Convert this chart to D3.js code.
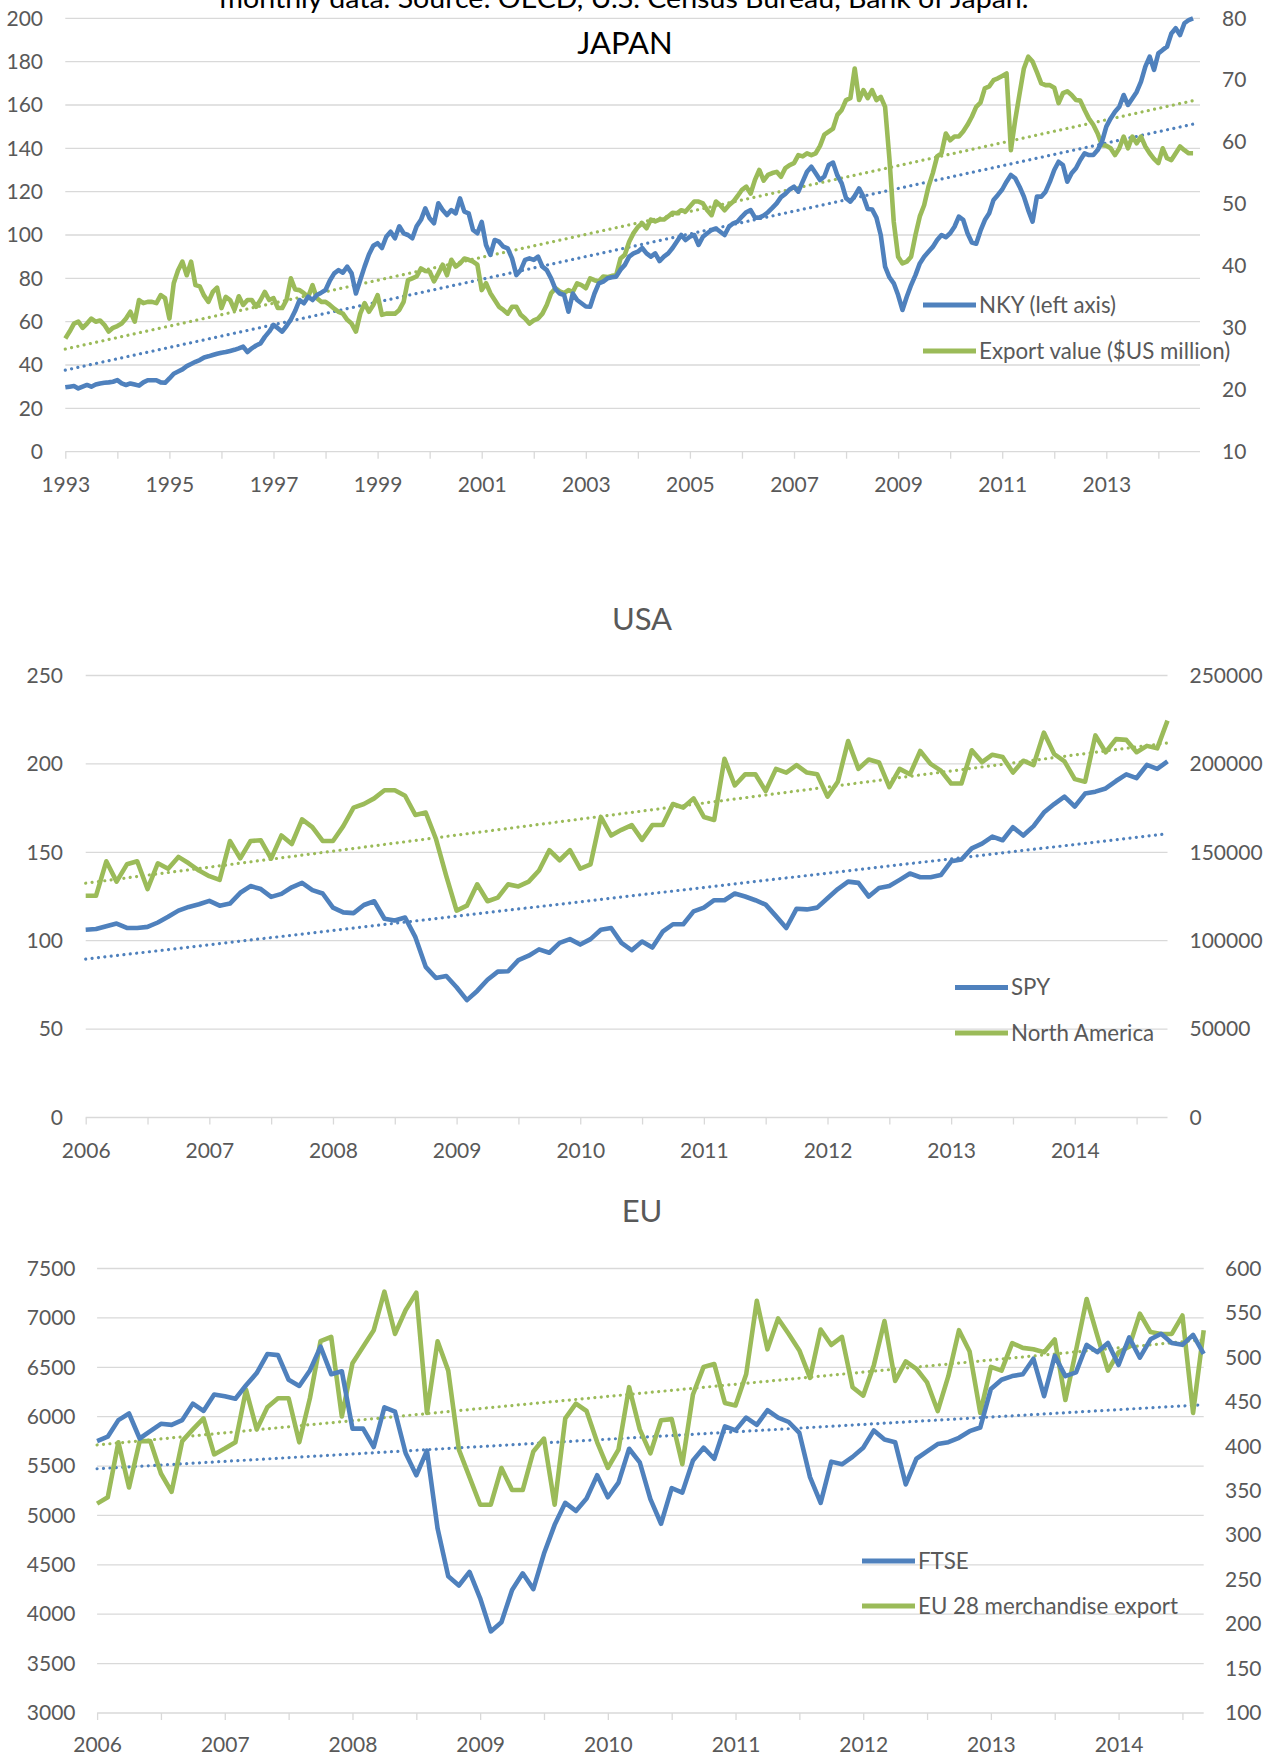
<!DOCTYPE html>
<html><head><meta charset="utf-8">
<script src="https://cdn.jsdelivr.net/npm/d3@7"></script>
<style>
body{margin:0;background:#fff;}
svg{display:block;}
</style></head><body>
<svg id="c" width="1278" height="1757"></svg>
<script>
// ---------------- DATA ----------------
// JAPAN, monthly Jan 1993 - Sep 2014
const japanNKY = [
29.7,30,30.3,29.2,30,30.8,30,31,31.5,31.8,32,32.3,
33,31.5,30.8,31.5,31,30.5,32,33,33,33,32,31.8,
33.8,36,37,38,39.5,40.5,41.5,42.3,43.5,44,44.6,45.2,
45.7,46,46.5,47,47.7,48.5,46,47.7,49,50,53,55.4,
58.5,57,55.4,58,61,65,70,68.5,71.5,70,72.3,73.4,
74.6,79,82.3,83.8,82.6,85.4,82.3,73,79.2,85.4,91,95,
96.2,94,99.2,101.5,98.5,104,100.8,100,98.5,104,107,112.3,
107.7,105.4,114.6,111.5,109.2,111.5,110,116.9,110.8,110,102.3,100.8,
106,95.4,90.8,97.7,96.9,94.6,93.8,89.2,81.5,83.8,88.5,89.2,
88.5,90,85.4,83.8,80,75,73,72.3,64.6,73,70,68.5,
67,66.9,73,77.7,78.5,80,80.5,80.8,84,86.2,90,91.5,
92.3,94,91.5,90,91.5,88,90,91.5,94,97,100,97.7,
99.2,100,95.4,99.2,100.8,102.3,103,101.5,100,103.8,105.4,106.2,
108.5,110.5,111.5,108,108,109,110.5,112.5,114.6,117.5,119,121,
122.3,120,124.6,129.2,131.5,128.5,125.4,127,132.3,133.4,127.5,123.8,
117,115.4,118,121.5,117.7,112,111.8,108,100,85.4,80.5,77.7,
72.3,65.4,71.5,76.9,81.5,86.9,90,92.3,94.5,97.7,100,99,
100.8,103.8,108.5,107,100.8,96.5,96,102,106.9,110,116.2,118.5,
121,124.6,127.7,126.2,122.3,117.7,111.5,106.2,117.7,117.7,120,124.6,
130,133.8,132.3,124.6,128.5,130.8,134.6,137.7,136.9,136.9,139.2,143,
150,153.8,156.9,159.2,164.6,160,163,166,170.8,177.7,182.3,176.2,
183.8,185.4,186.9,193,195.4,192.3,197.7,199.2,200
];
const japanExport = [
28.3,29.4,30.7,31.0,30.0,30.7,31.5,31.0,31.2,30.5,29.4,30.0,
30.3,30.7,31.5,32.6,31.0,34.5,34.0,34.2,34.2,34.0,35.3,34.8,
31.5,37.2,39.3,40.7,38.5,40.7,36.9,36.7,35.2,34.2,35.8,36.5,
33.2,35.0,34.5,32.9,35.1,33.7,34.5,34.5,33.4,34.5,35.8,34.5,
34.8,33.2,33.2,34.5,38.0,36.2,36.1,35.6,35.0,36.9,34.8,34.2,
34.2,33.7,33.1,32.6,32.3,31.3,30.7,29.4,32.3,34.0,32.6,33.7,
35.3,32.1,32.3,32.3,32.3,32.9,34.2,37.7,38.0,38.3,39.6,39.2,
39.1,37.5,38.8,40.2,38.5,41.0,39.9,40.4,41.2,41.0,40.7,40.2,
36.1,37.2,35.6,34.5,33.4,32.9,32.3,33.4,33.4,32.1,31.5,30.7,
31.2,31.5,32.3,33.7,35.6,36.4,35.9,35.6,36.1,35.8,37.2,36.9,
36.4,38.0,37.7,37.5,38.3,38.2,38.4,38.5,41.2,41.8,43.9,45.3,
46.3,46.9,46.1,47.5,47.2,47.5,47.5,48.0,48.6,48.5,49.0,48.8,
49.6,50.4,50.4,50.1,49.0,48.2,50.4,49.8,49.0,49.8,50.4,51.3,
52.3,52.8,51.7,53.9,55.5,53.8,54.7,55.0,55.2,54.4,55.8,56.3,
56.6,57.9,57.7,58.2,57.9,58.2,59.4,61.2,61.7,62.2,64.4,65.2,
66.8,67.1,71.9,66.8,68.4,67.1,68.4,66.8,67.3,65.7,57.3,47.1,
41.5,40.4,40.7,41.5,45.0,48.0,49.8,52.8,55.0,57.7,58.2,61.4,
60.3,60.9,60.9,61.7,62.8,64.1,65.7,66.4,68.7,69.0,70.0,70.3,
70.7,71.1,58.7,63.6,67.8,71.9,73.8,73.0,71.3,69.5,69.2,69.2,
68.8,66.3,67.9,68.2,67.6,66.8,66.7,65.2,63.8,62.8,61.4,59.5,
59.4,59.0,57.9,59.0,60.9,59.0,60.9,59.8,60.9,59.3,58.2,57.3,
56.6,59.0,57.4,57.1,58.2,59.3,58.7,58.2,58.2
];
const japanLeftTicks = [0,20,40,60,80,100,120,140,160,180,200];
const japanRightTicks = [10,20,30,40,50,60,70,80];
const japanYearLabels = [1993,1995,1997,1999,2001,2003,2005,2007,2009,2011,2013];

// USA, monthly Jan 2006 - Oct 2014
const usaSPY = [
106.2,106.6,108.2,109.7,107.2,107.2,107.8,110.3,113.5,117,119.1,120.6,
122.5,119.8,121,127.1,130.9,129.2,124.8,126.5,130.2,132.7,128.6,126.7,
118.7,116,115.6,120.2,122.3,112.4,111.4,113.1,102,85.2,78.9,80,
73.7,66.4,71.6,77.9,82.5,82.7,89,91.5,95.1,93.2,98.8,100.9,
97.8,100.9,106.2,107.2,98.8,94.6,99.5,96.1,105.1,109.3,109.3,116.6,
118.7,122.9,122.9,126.7,125,122.9,120.4,113.9,107.2,118.1,117.7,118.7,
124,129.2,133.4,132.7,125,129.8,130.9,134.4,138,135.9,135.9,137.1,
144.9,145.9,152.2,154.9,158.9,156.8,164.2,159.5,164.8,172.5,177.3,181.5,
175.9,183.2,184.3,186.1,190.3,194.1,192,199.4,197.2,201.4
];
const usaNorthAmerica = [
125400,125400,144900,133400,143200,144900,129200,143800,140700,147400,143800,139700,
136500,134400,156400,146600,156400,156800,146400,159500,154700,168600,164200,156400,
156400,164800,175300,177300,180500,185100,185100,182000,171100,172500,157500,136500,
117000,119800,131900,122300,124400,131900,130700,133400,139700,151200,145500,151200,
140700,143200,170000,159500,162700,165400,157000,165400,165400,177300,175300,180500,
170000,168300,202900,187800,194100,194100,184700,197200,195100,199300,195100,194100,
181500,189900,212900,197200,202500,200800,186800,197200,194100,207300,200000,196200,
188900,188900,207700,201000,205200,203900,195100,201800,199300,217700,205600,201400,
191400,189900,216100,206600,214000,213600,206600,210200,208800,224500
];
const usaLeftTicks = [0,50,100,150,200,250];
const usaRightTicks = [0,50000,100000,150000,200000,250000];
const usaYearLabels = [2006,2007,2008,2009,2010,2011,2012,2013,2014];

// EU, monthly Jan 2006 - Sep 2014
const euFTSE = [
5753,5797,5965,6032,5779,5853,5928,5917,5965,6132,6058,6225,
6207,6181,6318,6441,6634,6623,6374,6311,6467,6709,6430,6460,
5879,5879,5693,6095,6050,5630,5407,5656,4867,4384,4291,4428,
4161,3826,3919,4246,4414,4254,4614,4905,5128,5046,5172,5407,
5184,5332,5675,5537,5165,4916,5277,5232,5556,5686,5574,5902,
5861,5991,5917,6065,5991,5946,5835,5388,5128,5545,5518,5593,
5686,5861,5768,5742,5314,5574,5648,5723,5742,5786,5853,5890,
6281,6374,6411,6430,6586,6207,6616,6411,6448,6727,6653,6746,
6523,6802,6597,6783,6839,6746,6727,6828,6635
];
const euExport = [
335.5,342.6,404.5,353.7,405.8,405.8,369.4,348.8,405.8,419,431.4,390.9,
397.5,404.5,463.6,419,443.8,454.1,454.1,404.5,454.1,518.2,523.1,433.5,
493.4,512,530.6,574,526.4,553.3,572.7,437.6,518.2,485.1,396.3,365.3,
334.3,334.3,375.6,350.8,350.8,394.2,408.7,334.3,431.4,447.9,439.7,404.5,
375.6,396.3,466.5,419,392.1,429.3,430.6,379.8,458.3,489.3,492.6,448.8,
445.9,481,563.6,509.1,543.8,526.4,507.9,476.9,531.4,514,523.1,466.5,
457,491.3,540.9,473.6,495.5,487.2,471.9,439.7,478.9,530.6,506.6,437.6,
489.3,485.1,516.1,510.7,509.1,505.8,520.2,452.1,507.9,565.7,524.4,485.1,
505.8,512,549.2,528.5,526.4,526.4,547.1,437.6,530.6
];
const euLeftTicks = [3000,3500,4000,4500,5000,5500,6000,6500,7000,7500];
const euRightTicks = [100,150,200,250,300,350,400,450,500,550,600];
const euYearLabels = [2006,2007,2008,2009,2010,2011,2012,2013,2014];

const headerText = "monthly data. Source: OECD, U.S. Census Bureau, Bank of Japan.";

// ---------------- DRAWING ----------------
const FONT = "Lato, 'Open Sans', 'DejaVu Sans', sans-serif";
const BLUE = "#4f81bd", GREEN = "#9bbb59", GRID = "#d9d9d9", TXT = "#595959";
const svg = d3.select("#c");

function fit(vals){
  const n = vals.length; let sx=0, sy=0, sxx=0, sxy=0;
  vals.forEach((v,i)=>{ sx+=i; sy+=v; sxx+=i*i; sxy+=i*v; });
  const b = (n*sxy - sx*sy)/(n*sxx - sx*sx);
  const a = (sy - b*sx)/n;
  return i => a + b*i;
}

function panel(c){
  const g = svg.append("g");
  const x = d3.scaleLinear().domain([0, c.xMax]).range([c.x0, c.x1]);
  const yL = d3.scaleLinear().domain(c.leftDomain).range([c.yBottom, c.yTop]);
  const yR = d3.scaleLinear().domain(c.rightDomain).range([c.yBottom, c.yTop]);

  // gridlines
  g.append("g").selectAll("line").data(c.leftTicks).join("line")
    .attr("x1", c.x0).attr("x2", c.x1)
    .attr("y1", d => yL(d)).attr("y2", d => yL(d))
    .attr("stroke", GRID).attr("stroke-width", 1.3);

  // left axis labels
  g.append("g").attr("transform", `translate(${c.leftLabelX},0)`)
    .call(d3.axisLeft(yL).tickValues(c.leftTicks).tickSize(0).tickPadding(0).tickFormat(d => d))
    .call(s => s.select(".domain").remove())
    .attr("font-family", FONT).attr("font-size", 21)
    .selectAll("text").attr("fill", TXT);

  // right axis labels
  g.append("g").attr("transform", `translate(${c.rightLabelX},0)`)
    .call(d3.axisRight(yR).tickValues(c.rightTicks).tickSize(0).tickPadding(0).tickFormat(d => d))
    .call(s => s.select(".domain").remove())
    .attr("font-family", FONT).attr("font-size", 21)
    .selectAll("text").attr("fill", TXT);

  // x tick marks
  const tickMonths = d3.range(0, c.xMax + 0.001, c.tickEvery);
  g.append("g").attr("transform", `translate(0,${c.yBottom})`)
    .call(d3.axisBottom(x).tickValues(tickMonths).tickSize(7).tickFormat(""))
    .call(s => s.select(".domain").remove())
    .selectAll("line").attr("stroke", GRID).attr("stroke-width", 1.3);

  // x labels
  const labelMonths = c.yearLabels.map(yv => (yv - c.startYear) * 12);
  g.append("g").attr("transform", `translate(0,${c.yBottom})`)
    .call(d3.axisBottom(x).tickValues(labelMonths).tickSize(0).tickFormat(m => c.startYear + m/12))
    .call(s => s.select(".domain").remove())
    .attr("font-family", FONT).attr("font-size", 21)
    .selectAll("text").attr("fill", TXT).attr("dy", null).attr("y", c.labelOffset);

  // trendlines
  [[c.s1, yL, BLUE], [c.s2, yR, GREEN]].forEach(([vals, ys, col]) => {
    const f = fit(vals);
    const pts = [0, vals.length - 1];
    g.append("path")
      .attr("d", d3.line().x(i => x(i)).y(i => ys(f(i)))(pts))
      .attr("fill", "none").attr("stroke", col).attr("stroke-width", 3.2)
      .attr("stroke-linecap", "round").attr("stroke-dasharray", "0.01 6.4");
  });

  // series lines
  g.append("path")
    .attr("d", d3.line().x((d,i) => x(i)).y(d => yR(d))(c.s2))
    .attr("fill", "none").attr("stroke", GREEN).attr("stroke-width", c.lw).attr("stroke-linejoin", "round");
  g.append("path")
    .attr("d", d3.line().x((d,i) => x(i)).y(d => yL(d))(c.s1))
    .attr("fill", "none").attr("stroke", BLUE).attr("stroke-width", c.lw).attr("stroke-linejoin", "round");

  // title
  g.append("text").attr("x", c.titleX).attr("y", c.titleY).attr("text-anchor", "middle")
    .attr("font-family", FONT).attr("font-size", c.titleSize).attr("fill", c.titleColor)
    .text(c.title);

  // legend
  c.legend.forEach((L, k) => {
    g.append("line").attr("x1", c.legX0).attr("x2", c.legX1).attr("y1", L.y).attr("y2", L.y)
      .attr("stroke", k === 0 ? BLUE : GREEN).attr("stroke-width", 4.8);
    g.append("text").attr("x", c.legX1 + 3).attr("y", L.y).attr("dy", "0.35em")
      .attr("font-family", FONT).attr("font-size", 22.3).attr("fill", TXT).text(L.name);
  });
}

// header (cut off at the top, as in the source)
svg.append("text").attr("x", 624).attr("y", 7.5).attr("text-anchor", "middle")
  .attr("font-family", FONT).attr("font-size", 26).attr("fill", "#000")
  .attr("textLength", 809).attr("lengthAdjust", "spacingAndGlyphs")
  .text(headerText);

panel({
  s1: japanNKY, s2: japanExport, startYear: 1993, xMax: 261.6,
  x0: 65.3, x1: 1200, yTop: 18.3, yBottom: 451.7,
  leftDomain: [0,200], rightDomain: [10,80], leftTicks: japanLeftTicks, rightTicks: japanRightTicks,
  yearLabels: japanYearLabels, tickEvery: 12, leftLabelX: 43, rightLabelX: 1222, labelOffset: 40,
  lw: 4.6, title: "JAPAN", titleX: 625, titleY: 53.7, titleSize: 31, titleColor: "#000",
  legX0: 923, legX1: 976,
  legend: [{name: "NKY (left axis)", y: 305}, {name: "Export value ($US million)", y: 351}]
});

panel({
  s1: usaSPY, s2: usaNorthAmerica, startYear: 2006, xMax: 105,
  x0: 85.7, x1: 1167.5, yTop: 675.5, yBottom: 1117.5,
  leftDomain: [0,250], rightDomain: [0,250000], leftTicks: usaLeftTicks, rightTicks: usaRightTicks,
  yearLabels: usaYearLabels, tickEvery: 6, leftLabelX: 63, rightLabelX: 1189.5, labelOffset: 40.5,
  lw: 4.6, title: "USA", titleX: 642, titleY: 630, titleSize: 31, titleColor: TXT,
  legX0: 955, legX1: 1008,
  legend: [{name: "SPY", y: 987.5}, {name: "North America", y: 1033}]
});

panel({
  s1: euFTSE, s2: euExport, startYear: 2006, xMax: 104,
  x0: 97.1, x1: 1203.7, yTop: 1268.5, yBottom: 1713,
  leftDomain: [3000,7500], rightDomain: [100,600], leftTicks: euLeftTicks, rightTicks: euRightTicks,
  yearLabels: euYearLabels, tickEvery: 6, leftLabelX: 75.5, rightLabelX: 1225, labelOffset: 38.5,
  lw: 4.6, title: "EU", titleX: 642, titleY: 1222, titleSize: 31, titleColor: TXT,
  legX0: 862, legX1: 915,
  legend: [{name: "FTSE", y: 1561}, {name: "EU 28 merchandise export", y: 1606}]
});
</script>
</body></html>
